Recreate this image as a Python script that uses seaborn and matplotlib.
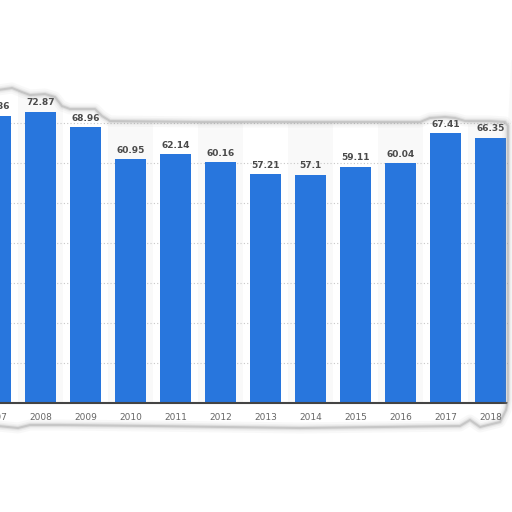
import numpy as np
import pandas as pd
import matplotlib
matplotlib.use("Agg")
import matplotlib.pyplot as plt
import seaborn as sns
from matplotlib.patches import Polygon

# valores
years = ["2007", "2008", "2009", "2010", "2011", "2012",
         "2013", "2014", "2015", "2016", "2017", "2018"]
values = [71.86, 72.87, 68.96, 60.95, 62.14, 60.16,
          57.21, 57.1, 59.11, 60.04, 67.41, 66.35]
labels = ["71.86", "72.87", "68.96", "60.95", "62.14", "60.16",
          "57.21", "57.1", "59.11", "60.04", "67.41", "66.35"]
grid_vals = [10, 20, 30, 40, 50, 60, 70]

df = pd.DataFrame({"year": years, "value": values})

sns.set_style("white")
plt.rcParams["font.family"] = ["DejaVu Sans"]

fig = plt.figure(figsize=(5.12, 5.12), dpi=100)
ax = fig.add_axes([0, 109 / 512, 1, 343 / 512])

# bandas alternas de fondo
for i in range(len(years)):
    if i % 2 == 1:
        ax.axvspan(i - 0.5, i + 0.5, color="#f9f9f9", zorder=0, lw=0)

sns.barplot(data=df, x="year", y="value", color="#2876dd", saturation=1,
            width=0.69, ax=ax, zorder=3, linewidth=0)

for g in grid_vals:
    ax.axhline(g, color="#c8c8c8", lw=0.8, ls=(0, (1, 2)), zorder=1)

texts = ax.bar_label(ax.containers[0], labels=labels, padding=3, fontsize=6.5,
                     fontweight="bold", color="#4a4a4a")
for t in texts:
    t.set_annotation_clip(False)

ax.set_xlim(4.5 / 45, 516.5 / 45)
ax.set_ylim(0, 343 / 4)
ax.set_xlabel("")
ax.set_ylabel("")
ax.set_yticks([])
ax.tick_params(axis="x", length=0, pad=7, labelsize=6.5, labelcolor="#666666")
# la etiqueta del primer año queda fuera del rango visible
ax.text(0, -10 / 4, years[0], ha="center", va="top", fontsize=6.5,
        color="#666666", clip_on=False)
for s in ["top", "right", "left"]:
    ax.spines[s].set_visible(False)
ax.spines["bottom"].set_color("#444444")
ax.spines["bottom"].set_linewidth(1.5)
ax.spines["bottom"].set_zorder(4)

# borde rasgado (capa encima, en píxeles)
ov = fig.add_axes([0, 0, 1, 1], zorder=10)
ov.set_xlim(0, 512)
ov.set_ylim(512, 0)
ov.axis("off")
ov.patch.set_alpha(0)

top_edge = [(-2, 90), (12, 88), (22, 92), (30, 95), (45, 94), (55, 97),
            (62, 106), (70, 109), (95, 109), (102, 116), (110, 121),
            (200, 122), (300, 122), (420, 122), (430, 118), (445, 117),
            (455, 118), (465, 121), (490, 121), (505, 122), (508, 126)]
right_edge = [(508, 126), (508, 400), (506, 410), (500, 422)]
bottom_edge = [(500, 422), (480, 427), (470, 420), (460, 426), (300, 428),
               (150, 426), (60, 425), (30, 425), (18, 428), (8, 427), (-2, 426)]

ov.add_patch(Polygon(top_edge + [(514, -2), (-2, -2)], closed=True,
                     fc="white", ec="none"))
ov.add_patch(Polygon(right_edge + [(514, 430), (514, 120)], closed=True,
                     fc="white", ec="none"))
ov.add_patch(Polygon(bottom_edge + [(-2, 514), (514, 514), (514, 420)],
                     closed=True, fc="white", ec="none"))

edge = top_edge + right_edge[1:] + bottom_edge[1:]
ex = [p[0] for p in edge]
ey = [p[1] for p in edge]
for lw, a in [(8, 0.05), (5, 0.08), (3, 0.14), (1.5, 0.28)]:
    ov.plot(ex, ey, color="#888888", lw=lw, alpha=a, solid_joinstyle="round",
            solid_capstyle="round")

fig.savefig("out.png", dpi=100)
